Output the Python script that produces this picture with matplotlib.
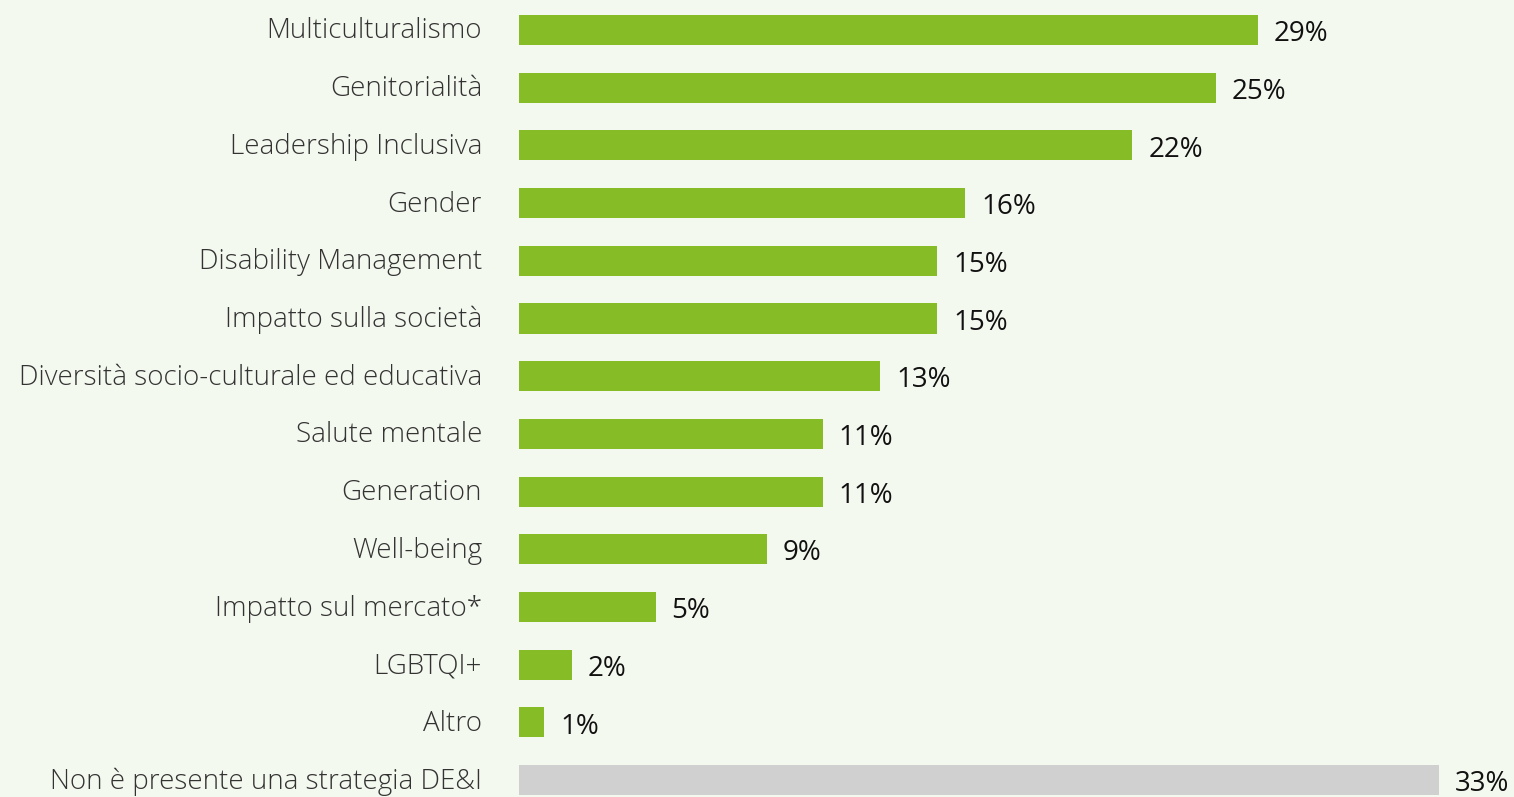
import matplotlib.pyplot as plt
from matplotlib.transforms import ScaledTranslation

# Temi affrontati nella strategia DE&I
categories = ["Multiculturalismo", "Genitorialità", "Leadership Inclusiva", "Gender",
              "Disability Management", "Impatto sulla società",
              "Diversità socio-culturale ed educativa", "Salute mentale", "Generation",
              "Well-being", "Impatto sul mercato*", "LGBTQI+", "Altro",
              "Non è presente una strategia DE&I"]
# bar lengths as drawn in the picture
bar_values = [26.5, 25, 22, 16, 15, 15, 12.95, 10.9, 10.9, 8.9, 4.9, 1.9, 0.9, 33]
value_labels = ["29%", "25%", "22%", "16%", "15%", "15%", "13%", "11%", "11%",
                "9%", "5%", "2%", "1%", "33%"]

bg = "#f4f9ef"
green = "#86bc25"
grey = "#d0d0d0"

W, H = 1514, 797
fig = plt.figure(figsize=(W/100, H/100), dpi=100, facecolor=bg)

px_per_pct = 27.88
spacing = 57.7
xmax = 36
top_px = 30 - spacing/2
bottom_px = top_px + spacing*len(categories)
ax = fig.add_axes([519/W, (H-bottom_px)/H, xmax*px_per_pct/W, (bottom_px-top_px)/H])
ax.set_facecolor(bg)

colors = [green]*(len(categories)-1) + [grey]
y = list(range(len(categories)))
ax.barh(y, bar_values, height=0.52, color=colors)
ax.set_xlim(0, xmax)
ax.set_ylim(len(categories)-0.5, -0.5)

ax.set_yticks(y)
ax.set_yticklabels(categories, family=["Open Sans", "DejaVu Sans"], fontweight="light",
                   fontsize=20, color="#333333")
ax.tick_params(axis="y", length=0, pad=26.6)
# nudge the category labels up a little
up = ScaledTranslation(0, 2/100, fig.dpi_scale_trans)
for lbl in ax.get_yticklabels():
    lbl.set_transform(lbl.get_transform() + up)
ax.set_xticks([])
for s in ax.spines.values():
    s.set_visible(False)

for yi, v, lab in zip(y, bar_values, value_labels):
    ax.annotate(lab, (v, yi), xytext=(11.5, -3), textcoords="offset points",
                ha="left", va="center", fontsize=20, color="#111111",
                family=["Open Sans", "DejaVu Sans"])

fig.savefig("out.png", dpi=100, facecolor=bg)
